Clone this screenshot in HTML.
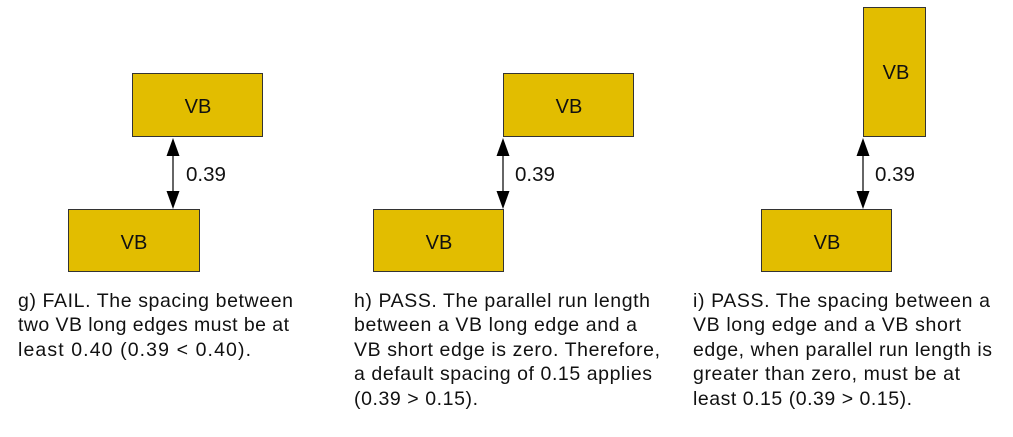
<!DOCTYPE html>
<html><head><style>
html,body{margin:0;padding:0;background:#fff;width:1013px;height:437px;overflow:hidden}
text{font-family:"Liberation Sans",sans-serif;fill:#111}
</style></head><body>
<svg width="1013" height="437" xmlns="http://www.w3.org/2000/svg">
<g fill="#e2bd00" stroke="#333" stroke-width="1">
<rect x="132.5" y="73.5" width="130" height="63"/>
<rect x="68.5" y="209.5" width="131" height="62"/>
<rect x="503.5" y="73.5" width="130" height="63"/>
<rect x="373.5" y="209.5" width="130" height="62"/>
<rect x="863.5" y="7.5" width="62" height="129"/>
<rect x="761.5" y="209.5" width="130" height="62"/>
</g>
<g font-size="20" text-anchor="middle">
<text x="198" y="113">VB</text>
<text x="134" y="249">VB</text>
<text x="569" y="113">VB</text>
<text x="439" y="249">VB</text>
<text x="896" y="79">VB</text>
<text x="827" y="249">VB</text>
</g>
<g stroke="#666" stroke-width="2">
<line x1="173" y1="150" x2="173" y2="195"/>
<line x1="503" y1="150" x2="503" y2="195"/>
<line x1="863" y1="150" x2="863" y2="195"/>
</g>
<g fill="#000">
<polygon points="173,138 166.5,156 179.5,156"/><polygon points="173,209 166.5,191 179.5,191"/>
<polygon points="503,138 496.5,156 509.5,156"/><polygon points="503,209 496.5,191 509.5,191"/>
<polygon points="863,138 856.5,156 869.5,156"/><polygon points="863,209 856.5,191 869.5,191"/>
</g>
<g font-size="20">
<text x="186" y="181" textLength="40" lengthAdjust="spacingAndGlyphs">0.39</text>
<text x="515" y="181" textLength="40" lengthAdjust="spacingAndGlyphs">0.39</text>
<text x="875" y="181" textLength="40" lengthAdjust="spacingAndGlyphs">0.39</text>
</g>
<g font-size="19.5" lengthAdjust="spacingAndGlyphs">
<text x="18" y="307" textLength="275">g) FAIL. The spacing between</text>
<text x="18" y="331" textLength="271">two VB long edges must be at</text>
<text x="18" y="356" textLength="233">least 0.40 (0.39 &lt; 0.40).</text>
<text x="354" y="307" textLength="296">h) PASS. The parallel run length</text>
<text x="354" y="331" textLength="283">between a VB long edge and a</text>
<text x="354" y="356" textLength="306">VB short edge is zero. Therefore,</text>
<text x="354" y="380" textLength="298">a default spacing of 0.15 applies</text>
<text x="354" y="405" textLength="124">(0.39 &gt; 0.15).</text>
<text x="693" y="307" textLength="297">i) PASS. The spacing between a</text>
<text x="693" y="331" textLength="268">VB long edge and a VB short</text>
<text x="693" y="356" textLength="299">edge, when parallel run length is</text>
<text x="693" y="380" textLength="267">greater than zero, must be at</text>
<text x="693" y="405" textLength="219">least 0.15 (0.39 &gt; 0.15).</text>
</g>
</svg>
</body></html>
